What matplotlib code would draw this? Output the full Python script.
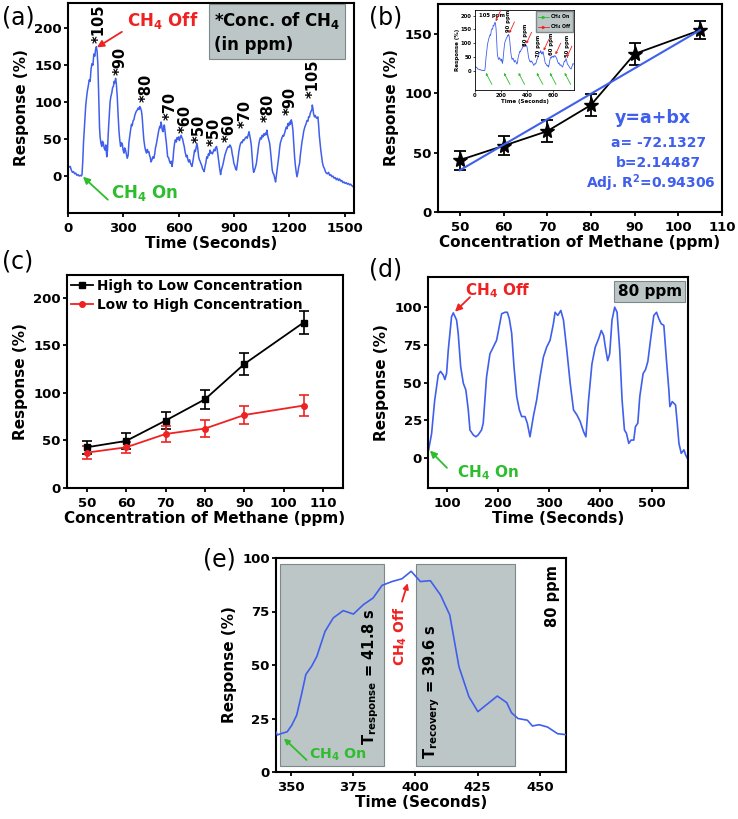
import matplotlib.pyplot as plt
from matplotlib.lines import Line2D
from matplotlib.patches import Rectangle

plt.rcParams['font.family'] = 'DejaVu Sans'
plt.rcParams['font.weight'] = 'bold'
plt.rcParams['axes.labelweight'] = 'bold'
plt.rcParams['mathtext.fontset'] = 'dejavusans'
plt.rcParams['mathtext.default'] = 'bf'
plt.rcParams['axes.linewidth'] = 1.5
plt.rcParams['xtick.major.width'] = 1.3
plt.rcParams['ytick.major.width'] = 1.3
plt.rcParams['xtick.major.size'] = 3
plt.rcParams['ytick.major.size'] = 3
plt.rcParams['ytick.major.pad'] = 1.5
plt.rcParams['xtick.labelsize'] = 9.5
plt.rcParams['ytick.labelsize'] = 9.5
plt.rcParams['axes.labelsize'] = 11

BLUE = '#3f5fec'
RED = '#ee2222'
GREEN = '#2dbd2d'
BOX = '#bcc6c6'

# ---- (a) full cycling run: (time s, response %)
a_trace = [
    (0, 14), (6, 12), (12, 13), (18, 8), (24, 5), (30, 6), (36, 3), (42, 4), (48, 1), (54, 2),
    (60, 0), (66, 1), (72, 0), (76, 2), (80, 20), (84, 45), (88, 62), (92, 80), (96, 95), (101, 107),
    (105, 115), (110, 122), (115, 130), (120, 128), (125, 145), (130, 152), (135, 150), (140, 165),
    (145, 162), (150, 172), (154, 175), (158, 168), (162, 150), (165, 120), (168, 85), (171, 65),
    (174, 53), (178, 45), (183, 40), (187, 47), (192, 44), (196, 38), (201, 35), (205, 42), (210, 26),
    (214, 35), (219, 62), (223, 80), (228, 100), (232, 107), (237, 112), (242, 120), (246, 121),
    (250, 128), (254, 126), (258, 132), (262, 125), (267, 107), (271, 85), (276, 62), (280, 50),
    (285, 40), (289, 45), (294, 44), (298, 36), (303, 31), (307, 38), (312, 35), (316, 30), (321, 24),
    (326, 28), (330, 45), (335, 55), (339, 62), (344, 70), (348, 68), (353, 75), (357, 76), (362, 82),
    (366, 85), (371, 88), (375, 89), (380, 92), (385, 90), (389, 94), (393, 92), (398, 88), (402, 80),
    (406, 65), (411, 49), (416, 40), (420, 35), (425, 31), (430, 36), (434, 32), (438, 33), (442, 28),
    (446, 25), (450, 19), (455, 22), (460, 26), (465, 24), (470, 30), (474, 38), (478, 42), (483, 49),
    (487, 55), (492, 62), (497, 67), (500, 65), (504, 73), (508, 68), (511, 62), (515, 60), (518, 65),
    (522, 69), (525, 63), (529, 53), (533, 45), (537, 35), (540, 26), (545, 25), (550, 20), (555, 17),
    (560, 20), (564, 13), (569, 22), (573, 35), (578, 45), (582, 49), (587, 46), (591, 52), (596, 50),
    (600, 53), (604, 48), (608, 52), (613, 55), (617, 52), (621, 50), (626, 44), (630, 40), (635, 32),
    (641, 26), (645, 28), (650, 22), (654, 19), (659, 22), (663, 18), (668, 15), (672, 13), (677, 20),
    (682, 28), (686, 35), (690, 33), (694, 38), (699, 44), (703, 38), (708, 26), (712, 22), (716, 20),
    (720, 17), (725, 14), (729, 10), (734, 8), (738, 6), (742, 12), (747, 18), (752, 26), (756, 24),
    (761, 30), (765, 28), (770, 35), (774, 31), (778, 32), (783, 30), (787, 33), (792, 36), (796, 34),
    (800, 38), (805, 40), (809, 35), (814, 26), (818, 18), (822, 10), (827, 2), (831, 8), (836, 12),
    (841, 17), (845, 22), (850, 28), (855, 32), (859, 35), (864, 38), (868, 40), (873, 39), (877, 42),
    (882, 40), (886, 37), (890, 30), (895, 24), (899, 17), (904, 14), (908, 10), (913, 8), (917, 15),
    (922, 25), (926, 33), (931, 40), (935, 44), (940, 46), (944, 45), (949, 49), (953, 48), (958, 50),
    (962, 52), (967, 53), (971, 51), (976, 55), (981, 60), (985, 55), (990, 48), (994, 40), (998, 25),
    (1002, 12), (1006, 5), (1011, 8), (1016, 12), (1021, 17), (1025, 25), (1030, 35), (1034, 43),
    (1039, 49), (1043, 52), (1048, 50), (1052, 55), (1057, 53), (1061, 57), (1066, 55), (1070, 58),
    (1074, 56), (1078, 62), (1082, 55), (1087, 50), (1093, 44), (1097, 35), (1102, 22), (1107, 8),
    (1111, 4), (1116, 2), (1120, -3), (1125, -8), (1129, 0), (1134, 10), (1138, 17), (1143, 28),
    (1147, 38), (1151, 45), (1156, 49), (1160, 52), (1165, 55), (1169, 54), (1174, 58), (1178, 62),
    (1183, 66), (1187, 64), (1192, 71), (1196, 68), (1201, 73), (1205, 70), (1210, 76), (1214, 72),
    (1219, 62), (1223, 45), (1228, 26), (1232, 15), (1237, 5), (1241, -1), (1246, 5), (1250, 12),
    (1255, 17), (1259, 28), (1264, 38), (1268, 46), (1273, 53), (1277, 60), (1282, 65), (1286, 68),
    (1291, 71), (1295, 75), (1300, 74), (1304, 80), (1309, 80), (1313, 85), (1318, 88), (1322, 90),
    (1324, 96), (1327, 92), (1331, 84), (1336, 80), (1340, 82), (1345, 79), (1349, 78), (1354, 80),
    (1358, 70), (1362, 55), (1366, 45), (1370, 35), (1375, 25), (1379, 18), (1384, 13), (1390, 10),
    (1395, 6), (1400, 4), (1406, 3), (1412, 5), (1418, 1), (1424, 2), (1430, -1), (1436, 0),
    (1442, -3), (1448, -2), (1454, -5), (1460, -3), (1466, -6), (1472, -4), (1478, -7), (1484, -6),
    (1490, -9), (1496, -8), (1502, -10), (1508, -9), (1514, -11), (1520, -10), (1526, -12),
    (1532, -11), (1538, -13), (1544, -14), (1550, -16),
]
a_time = [p[0] for p in a_trace]
a_resp = [p[1] for p in a_trace]

a_labels = ['105', '90', '80', '70', '60', '50', '50', '60', '70', '80', '90', '105']
a_label_t = [168, 282, 421, 552, 634, 710, 792, 874, 962, 1084, 1203, 1328]
a_label_v = [180, 136, 100, 76, 58, 44, 40, 46, 65, 73, 82, 105]

# ---- (b) calibration
conc = [50, 60, 70, 80, 90, 105]
b_resp = [43.7, 55.7, 68, 90, 133, 153]
b_err = [8, 8, 9, 9, 9, 7.5]
fit_a = -72.1327
fit_b = 2.14487

inset_peaks_t = [154, 258, 389, 522, 613, 699]
inset_peaks_v = [175, 132, 94, 69, 55, 44]
inset_on_t = [75, 214, 326, 466, 567, 680]
inset_labels = ['90 ppm', '80 ppm', '70 ppm', '60 ppm', '50 ppm']
inset_label_t = [254, 385, 485, 585, 708]
inset_label_v = [140, 88, 51, 58, 51]

# ---- (c) high->low vs low->high
c_high_low = [42.8, 49.5, 70.9, 93.3, 130.5, 174]
c_high_low_err = [7, 8, 8.5, 10, 11.5, 12]
c_low_high = [37.2, 42.8, 56.8, 62.5, 76.8, 86.7]
c_low_high_err = [6.5, 6, 8, 9, 9, 11]

# ---- (d) 80 ppm repeat cycles
d_trace = [
    (64, 5), (70, 16), (76, 38), (83, 55), (87.5, 57.4), (92.7, 55), (96, 52), (99.3, 56),
    (102.6, 71.5), (109, 93.6), (112.4, 96.2), (118.9, 91.4), (122, 82.6), (126.8, 60.6),
    (132, 49.5), (137, 45), (141.7, 31.8), (145, 18.5), (151.4, 15.2), (156.7, 14), (161, 15.2),
    (167.6, 18.5), (170.9, 23), (177.4, 53.7), (184, 69), (190.5, 73.5), (197, 78), (202, 86.8),
    (206.9, 95.6), (213.4, 96.6), (218, 96.6), (221.9, 92.3), (226.5, 82.6), (231, 60.6),
    (236.3, 40.7), (241.5, 31.8), (246, 27.4), (252.5, 27.4), (257, 23), (262.3, 14), (268.8, 27.4),
    (275.3, 38.4), (281.9, 53.7), (288.4, 66.8), (294.9, 73.5), (301.5, 78), (308, 89),
    (311.3, 96.6), (316.6, 94.5), (322.5, 97.8), (327.7, 91.4), (334.2, 71.5), (340.8, 49.5),
    (347.3, 31.8), (353.9, 28.5), (360.4, 24.1), (366.9, 17.4), (371.5, 14), (376.7, 38.4),
    (383.3, 62.3), (389.8, 73.5), (396.3, 79), (401.6, 84.5), (406.2, 81.2), (409.5, 73.5),
    (414, 64.5), (418, 69), (422.5, 91.4), (427.8, 100), (432.4, 96.6), (437.6, 71.5),
    (442.2, 38.4), (446.8, 18.5), (450.7, 16.3), (455.3, 9.6), (459.8, 11.8), (465, 11.8),
    (468.3, 20.7), (472.9, 23), (476.8, 40.7), (483.3, 56), (487.9, 58.4), (492.5, 63.9),
    (497.7, 78), (504.2, 94.5), (509.5, 96.6), (514, 92.3), (518.6, 89), (523.8, 87.9), (529, 64.5),
    (533.6, 45), (535.6, 34), (540.2, 37.3), (546.7, 35.1), (550, 23), (553.3, 9.6), (557.8, 3),
    (563, 5.3), (566.3, 2), (569.6, -0.2),
]
d_time = [p[0] for p in d_trace]
d_resp = [p[1] for p in d_trace]

# ---- (e) single cycle, response / recovery
e_trace = [
    (344, 18.8), (344.5, 17.3), (346.2, 18), (348.5, 18.8), (350.3, 21.8), (352.3, 26.5),
    (354.2, 36), (356, 45.6), (358.3, 49.4), (360.4, 54), (363.7, 65.7), (367, 72), (371, 75.4),
    (375.1, 73.8), (379.1, 78.2), (383, 81.3), (386.6, 87.2), (390.6, 89), (394.6, 90.3),
    (398.3, 93.8), (402, 89), (406, 89.4), (410.1, 82.7), (413.8, 73.4), (417.5, 49.2),
    (421.5, 35.2), (425.1, 28.2), (432.9, 35.5), (436.7, 32.4), (438.6, 27.7), (441.2, 25),
    (445, 24.2), (447, 21.5), (449.7, 22.1), (453.1, 21), (457.1, 17.9), (460.9, 17.4),
]
e_time = [p[0] for p in e_trace]
e_resp = [p[1] for p in e_trace]
t_response = 41.8
t_recovery = 39.6
response_start = 345.6
recovery_start = 400.4

fig = plt.figure(figsize=(7.38, 8.19), dpi=100)
W, H = 738.0, 819.0


def place(left, top, right, bottom):
    return fig.add_axes([left / W, 1 - bottom / H, (right - left) / W, (bottom - top) / H])


def arrow(ax, tail, head, color, lw=1.3, ms=10):
    ax.annotate('', xy=head, xytext=tail,
                arrowprops=dict(arrowstyle='-|>', color=color, lw=lw,
                                mutation_scale=ms, shrinkA=0, shrinkB=0))


# (a)
ax = place(68, 3, 354, 213)
ax.plot(a_time, a_resp, color=BLUE, lw=1.1)
ax.set_xlim(0, 1550)
ax.set_ylim(-50, 234)
ax.set_xticks(range(0, 1501, 300))
ax.set_yticks(range(0, 201, 50))
ax.set_xlabel('Time (Seconds)', labelpad=1)
ax.set_ylabel('Response (%)')
for t, v, s in zip(a_label_t, a_label_v, a_labels):
    ax.text(t, v, '*' + s, rotation=90, ha='center', va='bottom', fontsize=10.5)
ax.text(514, 211, 'CH$_4$ Off', color=RED, fontsize=12, ha='center', va='center')
arrow(ax, (292, 195), (157, 174), RED)
ax.text(417, -23, 'CH$_4$ On', color=GREEN, fontsize=12, ha='center', va='center')
arrow(ax, (216, -32), (81, -1), GREEN)
ax.text(0.51, 0.862, '*Conc. of CH$_4$\n(in ppm)', transform=ax.transAxes, fontsize=12,
        ha='left', va='center', linespacing=1.35,
        bbox=dict(boxstyle='square,pad=0.3', facecolor=BOX, edgecolor='#7f8888', lw=0.8))

# (b)
ax = place(438, 4, 722, 212)
ax.errorbar(conc, b_resp, yerr=b_err, color='k', marker='*', ms=11, lw=1.3,
            capsize=4, capthick=1.3, elinewidth=1.3)
fit_x = [conc[0], conc[-1]]
ax.plot(fit_x, [fit_a + fit_b * x for x in fit_x], color=BLUE, lw=1.5, zorder=3)
ax.set_xlim(45, 110)
ax.set_ylim(0, 175)
ax.set_xticks(range(50, 111, 10))
ax.set_yticks(range(0, 151, 50))
ax.set_xlabel('Concentration of Methane (ppm)', labelpad=1)
ax.set_ylabel('Response (%)')
ax.text(94.1, 79, 'y=a+bx', color=BLUE, fontsize=12.5, ha='center', va='center')
ax.text(95.5, 58, 'a= -72.1327', color=BLUE, fontsize=10, ha='center', va='center')
ax.text(95.5, 41, 'b=2.14487', color=BLUE, fontsize=10, ha='center', va='center')
ax.text(93.6, 24.5, 'Adj. R$^2$=0.94306', color=BLUE, fontsize=10, ha='center', va='center')

# (b) inset
ins = place(475, 10, 574, 90)
ins_t = [t for t in a_time if t <= 760]
ins.plot(ins_t, a_resp[:len(ins_t)], color=BLUE, lw=0.6)
ins.set_xlim(0, 760)
ins.set_ylim(-70, 220)
ins.set_xticks([0, 200, 400, 600])
ins.set_yticks([0, 50, 100, 150, 200])
for s in ins.spines.values():
    s.set_linewidth(0.6)
ins.tick_params(labelsize=3.8, length=1.5, width=0.5, pad=1)
ins.set_xlabel('Time (Seconds)', fontsize=4, labelpad=0.5)
ins.set_ylabel('Response (%)', fontsize=4, labelpad=0.5)
ins.text(131, 199, '105 ppm', fontsize=3.8, ha='center', va='center')
for t, v, s in zip(inset_label_t, inset_label_v, inset_labels):
    ins.text(t, v, s, rotation=90, fontsize=3.8, ha='center', va='bottom')
for t, v in zip(inset_peaks_t, inset_peaks_v):
    arrow(ins, (t + 45, v + 45), (t + 5, v + 4), RED, lw=0.6, ms=3)
for t in inset_on_t:
    arrow(ins, (t + 55, -50), (t + 8, -8), GREEN, lw=0.6, ms=3)
leg_handles = [Line2D([], [], color=GREEN, lw=0.6, marker='>', ms=1.5),
               Line2D([], [], color=RED, lw=0.6, marker='>', ms=1.5)]
ins.legend(leg_handles, ['CH$_4$ On', 'CH$_4$ Off'], loc='upper right', fontsize=3.3,
           handlelength=2.5, handletextpad=0.3, borderpad=0.3, labelspacing=0.2,
           frameon=True, fancybox=False, facecolor=BOX, edgecolor='#7f8888',
           framealpha=1, borderaxespad=0.2)

# (c)
ax = place(67, 275, 343, 488)
ax.errorbar(conc, c_high_low, yerr=c_high_low_err, color='k', marker='s', ms=4, lw=1.3,
            capsize=3.5, capthick=1.2, elinewidth=1.2, label='High to Low Concentration')
ax.errorbar(conc, c_low_high, yerr=c_low_high_err, color=RED, marker='o', ms=4, lw=1.3,
            capsize=3.5, capthick=1.2, elinewidth=1.2, label='Low to High Concentration')
ax.set_xlim(45, 115)
ax.set_ylim(0, 224)
ax.set_xticks(range(50, 111, 10))
ax.set_yticks(range(0, 201, 50))
ax.set_xlabel('Concentration of Methane (ppm)', labelpad=1)
ax.set_ylabel('Response (%)')
handles, labels = ax.get_legend_handles_labels()
ax.legend([h[0] for h in handles], labels, loc='upper left', frameon=False,
          prop=dict(size=9.8, weight='bold'), handlelength=1.6, handletextpad=0.3,
          labelspacing=0.35, borderaxespad=0.2, borderpad=0.1)

# (d)
ax = place(428, 277, 688, 488)
ax.plot(d_time, d_resp, color=BLUE, lw=1.2)
ax.set_xlim(63, 571)
ax.set_ylim(-20, 120)
ax.set_xticks(range(100, 501, 100))
ax.set_yticks(range(0, 101, 25))
ax.set_xlabel('Time (Seconds)', labelpad=1)
ax.set_ylabel('Response (%)')
ax.text(200, 111, 'CH$_4$ Off', color=RED, fontsize=11, ha='center', va='center')
arrow(ax, (145, 106.6), (115.7, 97), RED)
ax.text(180, -10, 'CH$_4$ On', color=GREEN, fontsize=11, ha='center', va='center')
arrow(ax, (100, -6.6), (66.7, 4.8), GREEN)
ax.text(496, 110.6, '80 ppm', fontsize=11, ha='center', va='center',
        bbox=dict(boxstyle='square,pad=0.2', facecolor=BOX, edgecolor='#7f8888', lw=0.8))

# (e)
ax = place(276, 558, 566, 772)
for start, dur in [(response_start, t_response), (recovery_start, t_recovery)]:
    ax.add_patch(Rectangle((start, 3), dur, 94, facecolor=BOX, edgecolor='#7f8888', lw=0.8,
                           zorder=1))
ax.plot(e_time, e_resp, color=BLUE, lw=1.2, zorder=3)
ax.set_xlim(344, 460.5)
ax.set_ylim(0, 100)
ax.set_xticks(range(350, 451, 25))
ax.set_yticks(range(0, 101, 25))
ax.set_xlabel('Time (Seconds)', labelpad=1)
ax.set_ylabel('Response (%)')
ax.text(381.9, 44.4, 'T$_{response}$ = %.1f s' % t_response, rotation=90, fontsize=10.5,
        ha='center', va='center', zorder=4)
ax.text(406.7, 37.5, 'T$_{recovery}$ = %.1f s' % t_recovery, rotation=90, fontsize=10.5,
        ha='center', va='center', zorder=4)
ax.text(394, 63.5, 'CH$_4$ Off', color=RED, rotation=90, fontsize=10, ha='center',
        va='center', zorder=4)
arrow(ax, (394.6, 79.6), (396.9, 88.2), RED, ms=8)
ax.text(369, 8, 'CH$_4$ On', color=GREEN, fontsize=10.3, ha='center', va='center', zorder=4)
arrow(ax, (356.3, 5.6), (347.2, 15.7), GREEN, ms=8)
ax.text(455.1, 82, '80 ppm', rotation=90, fontsize=10.5, ha='center', va='center')

# panel letters
for x, y, s in [(18, 18, '(a)'), (386, 18, '(b)'), (18, 262, '(c)'),
                (386, 270, '(d)'), (219, 560, '(e)')]:
    fig.text(x / W, 1 - y / H, s, fontsize=17, fontweight='normal', ha='center', va='center')

fig.savefig('out.png', dpi=100)
